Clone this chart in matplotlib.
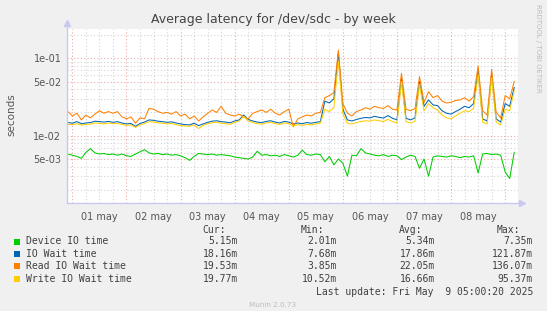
import numpy as np
import matplotlib.pyplot as plt
from matplotlib.lines import Line2D
from matplotlib.patches import Rectangle

# latency in milliseconds, one sample every 2 hours starting 30 apr 22:00
device_io = [5.8, 5.6, 5.4, 5.1, 6.1, 6.8, 6.0, 5.8, 5.9, 5.7,
             5.8, 5.6, 5.8, 5.5, 5.4, 5.8, 6.2, 6.6, 6.0, 5.8,
             5.9, 5.7, 5.8, 5.6, 5.7, 5.5, 5.2, 4.8, 5.4, 5.9,
             5.8, 5.7, 5.8, 5.6, 5.7, 5.6, 5.5, 5.3, 5.2, 5.1,
             5.0, 5.3, 6.3, 5.6, 5.7, 5.5, 5.6, 5.4, 5.7, 5.5,
             5.3, 5.6, 6.5, 5.7, 5.6, 5.8, 5.7, 4.6, 5.4, 4.2,
             5.0, 4.4, 3.0, 5.6, 5.5, 6.8, 6.0, 5.8, 5.6, 5.5,
             5.7, 5.4, 5.6, 5.5, 4.9, 5.3, 5.6, 5.4, 3.8, 5.0,
             3.0, 5.3, 5.5, 5.4, 5.3, 5.5, 5.4, 5.2, 5.4, 5.3,
             5.5, 3.3, 5.8, 5.9, 5.7, 5.8, 5.6, 3.4, 2.8, 6.1]
io_wait = [14.8, 14.5, 15.2, 14.3, 14.6, 14.8, 15.4, 15.2, 15.0, 15.3,
           14.9, 15.2, 14.6, 14.2, 14.4, 13.2, 14.4, 15.0, 16.0, 15.8,
           15.4, 15.2, 14.9, 15.1, 14.6, 14.2, 13.9, 13.8, 14.5, 13.5,
           14.2, 14.9, 15.4, 15.6, 15.2, 15.0, 14.7, 15.5, 16.0, 18.5,
           16.2, 15.5, 15.0, 14.8, 15.3, 15.6, 15.0, 14.6, 15.3, 15.0,
           14.2, 14.6, 14.3, 14.8, 14.5, 14.9, 15.2, 28.0, 26.5, 30.0,
           118.0, 22.0, 16.0, 15.5, 16.2, 16.8, 17.2, 17.0, 17.8, 17.3,
           16.9, 18.2, 16.8, 16.0, 55.0, 16.8, 16.0, 17.0, 50.0, 24.0,
           29.0, 25.0, 24.5, 21.0, 19.5, 19.0, 20.5, 22.0, 24.0, 23.0,
           26.0, 70.0, 16.5, 15.5, 62.0, 16.5, 15.0, 26.0, 24.0, 42.0]
read_wait = [20.5, 18.0, 19.5, 16.0, 18.5, 17.0, 19.0, 21.0, 19.5, 20.5,
             19.5, 20.5, 17.5, 16.5, 17.5, 14.5, 17.0, 16.5, 22.5, 22.0,
             20.5, 19.5, 20.0, 19.0, 20.5, 18.0, 19.0, 16.5, 18.0, 15.5,
             17.5, 19.5, 21.5, 20.0, 24.0, 19.5, 18.5, 18.0, 19.0, 17.5,
             16.5, 19.5, 20.5, 21.5, 20.0, 22.0, 19.5, 18.5, 20.5, 22.0,
             13.0, 16.5, 17.5, 18.5, 18.0, 19.5, 20.0, 31.0, 33.0, 36.0,
             128.0, 26.0, 19.5, 18.0, 20.5, 21.5, 23.0, 22.0, 24.0, 23.0,
             22.5, 24.5, 22.0, 21.5, 64.0, 22.0, 21.0, 22.5, 58.0, 27.0,
             37.0, 31.0, 33.0, 28.0, 26.5, 27.0, 28.5, 29.0, 31.0, 28.0,
             32.0, 80.0, 21.0, 18.5, 72.0, 20.0, 17.0, 33.0, 30.0, 50.0]
write_wait = [14.0, 13.9, 14.3, 13.7, 14.0, 14.1, 14.6, 14.4, 14.2, 14.6,
              14.3, 14.4, 14.0, 13.6, 13.8, 12.8, 13.8, 14.4, 15.2, 15.0,
              14.7, 14.5, 14.2, 14.4, 13.9, 13.5, 13.4, 13.2, 13.8, 12.4,
              13.6, 14.2, 14.7, 14.9, 14.5, 14.3, 14.0, 14.9, 15.5, 17.8,
              15.5, 14.8, 14.3, 14.1, 14.6, 14.9, 14.3, 14.0, 14.6, 14.3,
              13.3, 13.9, 13.6, 14.0, 13.8, 14.2, 14.5, 22.0, 20.5, 23.0,
              92.0, 19.0, 14.5, 14.2, 14.8, 15.2, 15.6, 15.4, 16.0, 15.6,
              15.2, 16.3, 15.2, 14.6, 50.0, 15.2, 14.6, 15.4, 46.0, 21.0,
              26.0, 23.0, 21.5, 18.5, 17.0, 16.5, 18.0, 19.5, 21.0, 20.5,
              22.5, 62.0, 15.0, 14.2, 56.0, 15.0, 13.8, 22.0, 21.0, 38.0]

day_labels = ['01 may', '02 may', '03 may', '04 may', '05 may', '06 may', '07 may', '08 may']
y_ticks = [5e-3, 1e-2, 5e-2, 1e-1]
y_tick_labels = ['5e-03', '1e-02', '5e-02', '1e-01']

names = ['Device IO time', 'IO Wait time', 'Read IO Wait time', 'Write IO Wait time']
colors = ['#00CC00', '#0066B3', '#FF8000', '#FFCC00']
cur = ['5.15m', '18.16m', '19.53m', '19.77m']
mins = ['2.01m', '7.68m', '3.85m', '10.52m']
avgs = ['5.34m', '17.86m', '22.05m', '16.66m']
maxs = ['7.35m', '121.87m', '136.07m', '95.37m']

W, H = 547, 311
def fx(px):
    return px / W
def fy(py):
    return 1 - py / H

days = (np.arange(len(device_io)) * 2 - 2) / 24.0

fig = plt.figure(figsize=(W / 100, H / 100), dpi=100, facecolor='#F0F0F0')
ax = fig.add_axes([fx(67), fy(203.3), (518 - 67) / W, (203.3 - 29.3) / H])
ax.set_facecolor('white')
ax.set_yscale('log')
ax.set_ylim(1.339e-3, 0.237)
ax.set_xlim(-0.0998, 8.237)
for s in ax.spines.values():
    s.set_visible(False)

# grid: gray dotted minor, red dotted major
minor_c = '#D4D4D4'
major_c = '#EDA8A8'
dots = (0, (1, 2))
for d in np.arange(-0.0, 8.25, 0.25):
    if abs(d - round(d)) > 1e-6:
        ax.axvline(d, color=minor_c, lw=0.8, ls=dots, zorder=1)
for dec in [1e-3, 1e-2, 1e-1]:
    for m in [2, 3, 4, 6, 7, 8, 9]:
        ax.axhline(m * dec, color=minor_c, lw=0.8, ls=dots, zorder=1)
for d in range(9):
    ax.axvline(d, color=major_c, lw=0.8, ls=dots, zorder=2)
for v in y_ticks:
    ax.axhline(v, color=major_c, lw=0.8, ls=dots, zorder=2)

series = [device_io, io_wait, read_wait, write_wait]
for vals, c in zip(series, colors):
    ax.plot(days, np.array(vals) / 1000.0, color=c, lw=0.75, zorder=3)

ax.set_yticks(y_ticks, y_tick_labels)
ax.set_yticks([], minor=True)
ax.set_xticks(np.arange(8) + 0.5, day_labels)
ax.tick_params(length=0, labelsize=7, colors='#555555', pad=4)
ax.tick_params(axis='x', pad=6)

# axes with arrows
axis_c = '#C8C8F0'
fig.add_artist(Line2D([fx(66.5), fx(521)], [fy(203.3), fy(203.3)], color=axis_c, lw=1))
fig.add_artist(Line2D([fx(66.5), fx(66.5)], [fy(203.3), fy(24)], color=axis_c, lw=1))
fig.add_artist(Line2D([fx(522)], [fy(203.3)], marker='>', color=axis_c, ms=4, lw=0))
fig.add_artist(Line2D([fx(66.5)], [fy(23)], marker='^', color=axis_c, ms=4, lw=0))

fig.text(fx(273.5), fy(20), 'Average latency for /dev/sdc - by week', ha='center', va='center',
         fontsize=9, color='#444444')
fig.text(fx(11.5), fy(115), 'seconds', rotation=90, ha='center', va='center', fontsize=7.5, color='#555555')
fig.text(fx(538), fy(4), 'RRDTOOL / TOBI OETIKER', rotation=270, ha='center', va='top',
         fontsize=5, color='#BBBBBB')

mono = 'DejaVu Sans Mono'
tc = '#404040'
for px, head in [(225.7, 'Cur:'), (324.5, 'Min:'), (422.5, 'Avg:'), (520, 'Max:')]:
    fig.text(fx(px), fy(229.7), head, ha='right', va='center', family=mono, fontsize=7, color=tc)
rows = [241.5, 254, 266.3, 279.2]
for k in range(4):
    py = rows[k]
    fig.add_artist(Rectangle((fx(14), fy(py + 3)), 6 / W, 6 / H, facecolor=colors[k], edgecolor='none'))
    fig.text(fx(26), fy(py), names[k], ha='left', va='center', family=mono, fontsize=7, color=tc)
    for px, col in [(238, cur), (337, mins), (435, avgs), (533, maxs)]:
        fig.text(fx(px), fy(py), col[k], ha='right', va='center', family=mono, fontsize=7, color=tc)
fig.text(fx(533), fy(291.8), 'Last update: Fri May  9 05:00:20 2025', ha='right', va='center',
         family=mono, fontsize=7, color=tc)
fig.text(fx(273), fy(304.7), 'Munin 2.0.73', ha='center', va='center', fontsize=5.2, color='#BBBBBB')

fig.savefig('out.png', dpi=100, facecolor=fig.get_facecolor())
